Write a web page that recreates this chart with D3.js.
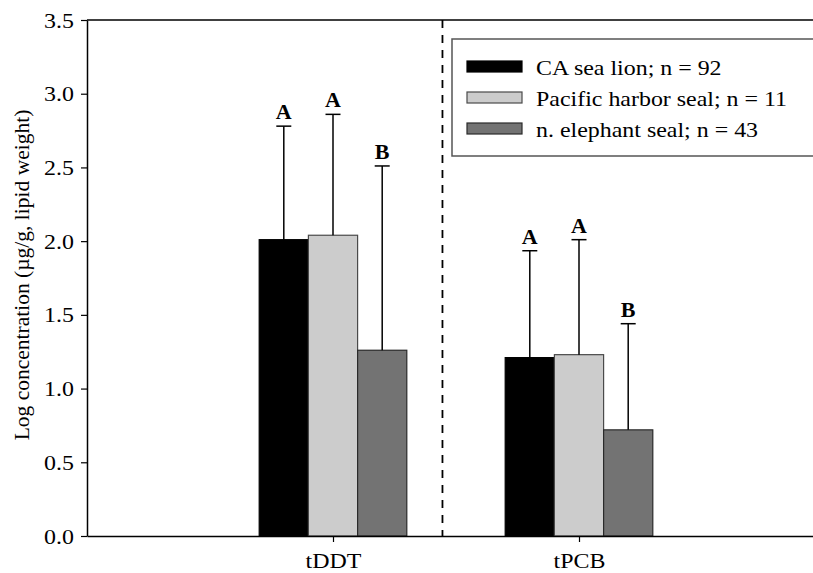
<!DOCTYPE html>
<html>
<head>
<meta charset="utf-8">
<script src="https://cdn.jsdelivr.net/npm/d3@7"></script>
<style>
  body { margin: 0; background: #fff; }
  svg { display: block; }
  text { font-family: "Liberation Serif", "Times New Roman", serif; fill: #000; }
</style>
</head>
<body>
<svg id="chart" width="813" height="573"></svg>
<script>
// categories and series (log concentration, lipid weight)
const categories = ["tDDT", "tPCB"];
const seriesNames = ["CA sea lion; n = 92", "Pacific harbor seal; n = 11", "n. elephant seal; n = 43"];
const seaLion = [2.01, 1.21];
const harborSeal = [2.04, 1.23];
const elephantSeal = [1.26, 0.72];
const seaLionErr = [0.77, 0.725];
const harborSealErr = [0.82, 0.78];
const elephantSealErr = [1.25, 0.72];
const sigLetters = [["A", "A", "B"], ["A", "A", "B"]];
const yTicks = [0, 0.5, 1, 1.5, 2, 2.5, 3, 3.5];

const fills = ["#000000", "#cccccc", "#737373"];
const strokes = ["#000000", "#4a4a4a", "#2a2a2a"];
const means = [seaLion, harborSeal, elephantSeal];
const errs = [seaLionErr, harborSealErr, elephantSealErr];

const svg = d3.select("#chart");
const mLeft = 87, mRight = 825, mTop = 20, mBottom = 536;
const fs = 21, sx = 1.14;

const x = d3.scaleLinear().domain([0, 3]).range([mLeft, mRight]);
const y = d3.scaleLinear().domain([0, 3.5]).range([mBottom, mTop]);
const barW = 0.2;

// bars
const bars = [];
categories.forEach((c, ci) => {
  means.forEach((m, si) => {
    bars.push({ ci, si, v: m[ci], e: errs[si][ci], letter: sigLetters[ci][si] });
  });
});

const g = svg.append("g");

g.selectAll("rect.bar")
  .data(bars)
  .enter()
  .append("rect")
  .attr("class", "bar")
  .attr("x", d => x(d.ci + 1 + (d.si - 1.5) * barW))
  .attr("width", d => x(barW) - x(0))
  .attr("y", d => y(d.v))
  .attr("height", d => y(0) - y(d.v))
  .attr("fill", d => fills[d.si])
  .attr("stroke", d => strokes[d.si])
  .attr("stroke-width", 1.2);

// error bars (upper only)
const capHalf = 7.5;
const eb = g.selectAll("g.err")
  .data(bars)
  .enter()
  .append("g")
  .attr("class", "err")
  .attr("transform", d => `translate(${x(d.ci + 1 + (d.si - 1) * barW)},0)`);

eb.append("line")
  .attr("y1", d => y(d.v))
  .attr("y2", d => y(d.v + d.e))
  .attr("stroke", "#000")
  .attr("stroke-width", 1.5);

eb.append("line")
  .attr("x1", -capHalf)
  .attr("x2", capHalf)
  .attr("y1", d => y(d.v + d.e))
  .attr("y2", d => y(d.v + d.e))
  .attr("stroke", "#000")
  .attr("stroke-width", 1.5);

eb.append("text")
  .attr("text-anchor", "middle")
  .attr("y", d => y(d.v + d.e) - 7)
  .attr("font-size", "22px")
  .attr("font-weight", "bold")
  .text(d => d.letter);

// dashed separator
svg.append("line")
  .attr("x1", x(1.445)).attr("x2", x(1.445))
  .attr("y1", y(3.5)).attr("y2", y(0))
  .attr("stroke", "#000")
  .attr("stroke-width", 1.8)
  .attr("stroke-dasharray", "8,7");

// top frame line
svg.append("line")
  .attr("x1", mLeft).attr("x2", mRight)
  .attr("y1", y(3.5)).attr("y2", y(3.5))
  .attr("stroke", "#000").attr("stroke-width", 1.5);

// y axis
const yAxis = svg.append("g")
  .attr("transform", `translate(${mLeft},0)`)
  .call(d3.axisLeft(y).tickValues(yTicks).tickFormat(d3.format(".1f")).tickSize(6).tickSizeOuter(0));
yAxis.select(".domain").attr("stroke-width", 1.5);
yAxis.selectAll(".tick line").attr("stroke-width", 1.2);
yAxis.selectAll(".tick text")
  .attr("x", null)
  .attr("dy", "0.34em")
  .attr("font-size", fs + "px")
  .attr("transform", `translate(-13,0) scale(${sx},1)`);

// x axis
const xAxis = svg.append("g")
  .attr("transform", `translate(0,${mBottom})`)
  .call(d3.axisBottom(x).tickValues([1, 2]).tickFormat(d => categories[d - 1]).tickSize(6).tickSizeOuter(0));
xAxis.select(".domain").attr("stroke-width", 1.5);
xAxis.selectAll(".tick line").attr("stroke-width", 1.2);
xAxis.selectAll(".tick text")
  .attr("y", null)
  .attr("dy", null)
  .attr("font-size", fs + "px")
  .attr("transform", `translate(0,32) scale(${sx},1)`);
svg.selectAll(".domain").attr("stroke", "#000");
svg.selectAll(".tick text").attr("font-family", "'Liberation Serif', serif");

// y axis title
svg.append("text")
  .attr("transform", `translate(29,${(mTop + mBottom) / 2 - 3}) rotate(-90)`)
  .attr("text-anchor", "middle")
  .attr("font-size", "21.5px")
  .text("Log concentration (µg/g, lipid weight)");

// legend
const legend = svg.append("g");
legend.append("rect")
  .attr("x", 452).attr("y", 39)
  .attr("width", 400).attr("height", 117)
  .attr("fill", "#fff")
  .attr("stroke", "#555")
  .attr("stroke-width", 1.5);

const rowY = d3.scalePoint().domain(seriesNames).range([75, 137]);
const rows = legend.selectAll("g.row")
  .data(seriesNames)
  .enter()
  .append("g")
  .attr("class", "row")
  .attr("transform", d => `translate(0,${rowY(d)})`);

rows.append("rect")
  .attr("x", 467).attr("y", -14)
  .attr("width", 55).attr("height", 11)
  .attr("fill", (d, i) => fills[i])
  .attr("stroke", (d, i) => strokes[i])
  .attr("stroke-width", 1.2);

rows.append("text")
  .attr("transform", `translate(536,0) scale(${sx},1)`)
  .attr("font-size", fs + "px")
  .text(d => d);
</script>
</body>
</html>
